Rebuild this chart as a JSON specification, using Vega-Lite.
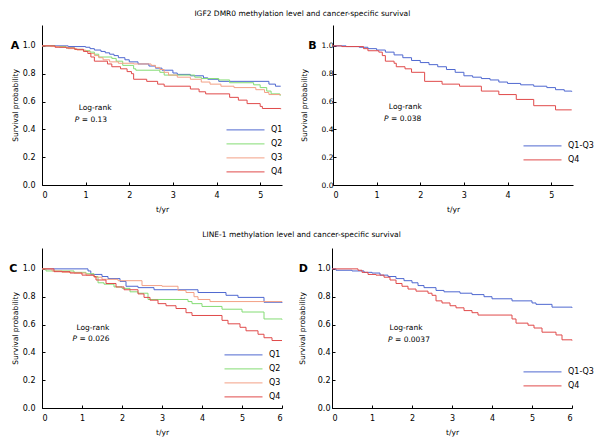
{
  "$schema": "https://vega.github.io/schema/vega-lite/v6.json",
  "background": "white",
  "padding": {"left": 9, "top": 9, "right": 5, "bottom": 5},
  "config": {
    "font": "DejaVu Sans",
    "view": {"stroke": null},
    "axis": {"grid": false, "domainColor": "#000", "tickColor": "#000", "labelColor": "#000", "titleColor": "#000", "labelFont": "DejaVu Sans", "titleFont": "DejaVu Sans", "labelFontSize": 8, "titleFontSize": 7.5, "titleFontWeight": "normal", "tickSize": -3, "domainWidth": 1, "tickWidth": 1, "labelOverlap": false, "tickCount": 20},
    "axisX": {"labelPadding": 9, "titlePadding": 6},
    "axisY": {"labelPadding": 10, "titlePadding": 3},
    "legend": {"labelFont": "DejaVu Sans", "labelFontSize": 8, "labelColor": "#000", "symbolType": "stroke", "symbolSize": 1444, "symbolStrokeWidth": 1, "clipHeight": 13.8, "labelOffset": 6, "padding": 0, "rowPadding": 0, "title": null, "orient": "none"},
    "title": {"font": "DejaVu Sans", "fontSize": 7.5, "fontWeight": "normal", "color": "#000", "anchor": "middle", "offset": 8}
  },
  "datasets": {
    "A": [
      {"t":0,"s":1,"g":"Q1"},{"t":0.6,"s":0.995,"g":"Q1"},{"t":1.0,"s":0.99,"g":"Q1"},{"t":1.1,"s":0.98,"g":"Q1"},{"t":1.2,"s":0.97,"g":"Q1"},{"t":1.35,"s":0.96,"g":"Q1"},{"t":1.45,"s":0.95,"g":"Q1"},{"t":1.55,"s":0.94,"g":"Q1"},{"t":1.65,"s":0.93,"g":"Q1"},{"t":1.75,"s":0.915,"g":"Q1"},{"t":1.9,"s":0.9,"g":"Q1"},{"t":2.0,"s":0.885,"g":"Q1"},{"t":2.2,"s":0.87,"g":"Q1"},{"t":2.45,"s":0.855,"g":"Q1"},{"t":2.6,"s":0.84,"g":"Q1"},{"t":2.75,"s":0.825,"g":"Q1"},{"t":3.0,"s":0.805,"g":"Q1"},{"t":3.1,"s":0.795,"g":"Q1"},{"t":3.4,"s":0.785,"g":"Q1"},{"t":3.7,"s":0.77,"g":"Q1"},{"t":3.8,"s":0.76,"g":"Q1"},{"t":4.05,"s":0.745,"g":"Q1"},{"t":5.2,"s":0.725,"g":"Q1"},{"t":5.35,"s":0.71,"g":"Q1"},{"t":5.47,"s":0.71,"g":"Q1"},
      {"t":0,"s":1,"g":"Q2"},{"t":0.3,"s":0.995,"g":"Q2"},{"t":0.55,"s":0.985,"g":"Q2"},{"t":0.75,"s":0.975,"g":"Q2"},{"t":0.95,"s":0.965,"g":"Q2"},{"t":1.1,"s":0.955,"g":"Q2"},{"t":1.2,"s":0.94,"g":"Q2"},{"t":1.3,"s":0.92,"g":"Q2"},{"t":1.6,"s":0.91,"g":"Q2"},{"t":1.7,"s":0.89,"g":"Q2"},{"t":1.85,"s":0.86,"g":"Q2"},{"t":2.1,"s":0.835,"g":"Q2"},{"t":2.15,"s":0.825,"g":"Q2"},{"t":2.7,"s":0.81,"g":"Q2"},{"t":2.8,"s":0.79,"g":"Q2"},{"t":3.5,"s":0.775,"g":"Q2"},{"t":3.65,"s":0.765,"g":"Q2"},{"t":4.05,"s":0.755,"g":"Q2"},{"t":4.3,"s":0.735,"g":"Q2"},{"t":4.85,"s":0.72,"g":"Q2"},{"t":5.0,"s":0.7,"g":"Q2"},{"t":5.15,"s":0.675,"g":"Q2"},{"t":5.25,"s":0.655,"g":"Q2"},{"t":5.45,"s":0.645,"g":"Q2"},{"t":5.47,"s":0.645,"g":"Q2"},
      {"t":0,"s":1,"g":"Q3"},{"t":0.2,"s":0.995,"g":"Q3"},{"t":0.4,"s":0.99,"g":"Q3"},{"t":0.6,"s":0.98,"g":"Q3"},{"t":0.8,"s":0.97,"g":"Q3"},{"t":1.0,"s":0.96,"g":"Q3"},{"t":1.1,"s":0.945,"g":"Q3"},{"t":1.2,"s":0.93,"g":"Q3"},{"t":1.3,"s":0.915,"g":"Q3"},{"t":1.4,"s":0.9,"g":"Q3"},{"t":1.55,"s":0.885,"g":"Q3"},{"t":1.75,"s":0.875,"g":"Q3"},{"t":2.1,"s":0.87,"g":"Q3"},{"t":2.5,"s":0.86,"g":"Q3"},{"t":2.6,"s":0.845,"g":"Q3"},{"t":2.7,"s":0.83,"g":"Q3"},{"t":2.8,"s":0.81,"g":"Q3"},{"t":2.9,"s":0.79,"g":"Q3"},{"t":3.1,"s":0.775,"g":"Q3"},{"t":3.4,"s":0.76,"g":"Q3"},{"t":3.65,"s":0.74,"g":"Q3"},{"t":3.85,"s":0.725,"g":"Q3"},{"t":4.1,"s":0.71,"g":"Q3"},{"t":4.4,"s":0.7,"g":"Q3"},{"t":4.9,"s":0.685,"g":"Q3"},{"t":5.1,"s":0.665,"g":"Q3"},{"t":5.2,"s":0.65,"g":"Q3"},{"t":5.47,"s":0.65,"g":"Q3"},
      {"t":0,"s":1,"g":"Q4"},{"t":0.3,"s":0.99,"g":"Q4"},{"t":0.55,"s":0.985,"g":"Q4"},{"t":0.75,"s":0.975,"g":"Q4"},{"t":0.95,"s":0.96,"g":"Q4"},{"t":1.05,"s":0.945,"g":"Q4"},{"t":1.12,"s":0.92,"g":"Q4"},{"t":1.2,"s":0.89,"g":"Q4"},{"t":1.5,"s":0.87,"g":"Q4"},{"t":1.6,"s":0.85,"g":"Q4"},{"t":1.8,"s":0.835,"g":"Q4"},{"t":1.95,"s":0.815,"g":"Q4"},{"t":2.05,"s":0.8,"g":"Q4"},{"t":2.1,"s":0.76,"g":"Q4"},{"t":2.4,"s":0.745,"g":"Q4"},{"t":2.65,"s":0.725,"g":"Q4"},{"t":2.8,"s":0.71,"g":"Q4"},{"t":3.4,"s":0.69,"g":"Q4"},{"t":3.6,"s":0.67,"g":"Q4"},{"t":3.75,"s":0.655,"g":"Q4"},{"t":4.3,"s":0.63,"g":"Q4"},{"t":4.5,"s":0.61,"g":"Q4"},{"t":4.7,"s":0.585,"g":"Q4"},{"t":5.0,"s":0.565,"g":"Q4"},{"t":5.05,"s":0.55,"g":"Q4"},{"t":5.47,"s":0.545,"g":"Q4"}
    ],
    "B": [
      {"t":0,"s":1,"g":"Q1-Q3"},{"t":0.3,"s":0.995,"g":"Q1-Q3"},{"t":0.6,"s":0.99,"g":"Q1-Q3"},{"t":0.8,"s":0.98,"g":"Q1-Q3"},{"t":1.0,"s":0.97,"g":"Q1-Q3"},{"t":1.2,"s":0.955,"g":"Q1-Q3"},{"t":1.4,"s":0.935,"g":"Q1-Q3"},{"t":1.6,"s":0.915,"g":"Q1-Q3"},{"t":1.8,"s":0.895,"g":"Q1-Q3"},{"t":2.0,"s":0.88,"g":"Q1-Q3"},{"t":2.2,"s":0.865,"g":"Q1-Q3"},{"t":2.4,"s":0.85,"g":"Q1-Q3"},{"t":2.6,"s":0.83,"g":"Q1-Q3"},{"t":2.8,"s":0.81,"g":"Q1-Q3"},{"t":3.0,"s":0.785,"g":"Q1-Q3"},{"t":3.2,"s":0.775,"g":"Q1-Q3"},{"t":3.4,"s":0.765,"g":"Q1-Q3"},{"t":3.6,"s":0.755,"g":"Q1-Q3"},{"t":3.8,"s":0.74,"g":"Q1-Q3"},{"t":4.0,"s":0.73,"g":"Q1-Q3"},{"t":4.3,"s":0.72,"g":"Q1-Q3"},{"t":4.6,"s":0.71,"g":"Q1-Q3"},{"t":4.9,"s":0.7,"g":"Q1-Q3"},{"t":5.1,"s":0.685,"g":"Q1-Q3"},{"t":5.3,"s":0.675,"g":"Q1-Q3"},{"t":5.47,"s":0.67,"g":"Q1-Q3"},
      {"t":0,"s":1,"g":"Q4"},{"t":0.2,"s":0.995,"g":"Q4"},{"t":0.7,"s":0.98,"g":"Q4"},{"t":0.8,"s":0.965,"g":"Q4"},{"t":1.05,"s":0.955,"g":"Q4"},{"t":1.13,"s":0.93,"g":"Q4"},{"t":1.2,"s":0.89,"g":"Q4"},{"t":1.4,"s":0.875,"g":"Q4"},{"t":1.45,"s":0.85,"g":"Q4"},{"t":1.65,"s":0.835,"g":"Q4"},{"t":1.8,"s":0.81,"g":"Q4"},{"t":2.1,"s":0.745,"g":"Q4"},{"t":2.5,"s":0.725,"g":"Q4"},{"t":2.9,"s":0.71,"g":"Q4"},{"t":3.4,"s":0.675,"g":"Q4"},{"t":3.8,"s":0.65,"g":"Q4"},{"t":4.2,"s":0.615,"g":"Q4"},{"t":4.6,"s":0.57,"g":"Q4"},{"t":5.1,"s":0.54,"g":"Q4"},{"t":5.47,"s":0.54,"g":"Q4"}
    ],
    "C": [
      {"t":0,"s":1,"g":"Q1"},{"t":1.15,"s":0.985,"g":"Q1"},{"t":1.22,"s":0.96,"g":"Q1"},{"t":1.5,"s":0.945,"g":"Q1"},{"t":1.65,"s":0.93,"g":"Q1"},{"t":1.95,"s":0.91,"g":"Q1"},{"t":2.1,"s":0.875,"g":"Q1"},{"t":2.4,"s":0.865,"g":"Q1"},{"t":2.8,"s":0.85,"g":"Q1"},{"t":3.9,"s":0.83,"g":"Q1"},{"t":4.6,"s":0.81,"g":"Q1"},{"t":4.9,"s":0.795,"g":"Q1"},{"t":5.55,"s":0.76,"g":"Q1"},{"t":6,"s":0.755,"g":"Q1"},
      {"t":0,"s":1,"g":"Q2"},{"t":0.1,"s":0.985,"g":"Q2"},{"t":0.8,"s":0.975,"g":"Q2"},{"t":1.1,"s":0.965,"g":"Q2"},{"t":1.3,"s":0.945,"g":"Q2"},{"t":1.4,"s":0.9,"g":"Q2"},{"t":1.55,"s":0.89,"g":"Q2"},{"t":1.8,"s":0.87,"g":"Q2"},{"t":2.0,"s":0.86,"g":"Q2"},{"t":2.2,"s":0.835,"g":"Q2"},{"t":2.4,"s":0.825,"g":"Q2"},{"t":2.65,"s":0.78,"g":"Q2"},{"t":3.65,"s":0.765,"g":"Q2"},{"t":3.75,"s":0.75,"g":"Q2"},{"t":4.0,"s":0.73,"g":"Q2"},{"t":4.5,"s":0.71,"g":"Q2"},{"t":5.0,"s":0.69,"g":"Q2"},{"t":5.55,"s":0.64,"g":"Q2"},{"t":6,"s":0.635,"g":"Q2"},
      {"t":0,"s":1,"g":"Q3"},{"t":0.25,"s":0.985,"g":"Q3"},{"t":0.5,"s":0.975,"g":"Q3"},{"t":0.8,"s":0.97,"g":"Q3"},{"t":1.1,"s":0.955,"g":"Q3"},{"t":1.3,"s":0.94,"g":"Q3"},{"t":1.5,"s":0.925,"g":"Q3"},{"t":1.9,"s":0.915,"g":"Q3"},{"t":2.5,"s":0.88,"g":"Q3"},{"t":3.0,"s":0.875,"g":"Q3"},{"t":3.4,"s":0.845,"g":"Q3"},{"t":3.6,"s":0.83,"g":"Q3"},{"t":3.8,"s":0.8,"g":"Q3"},{"t":3.9,"s":0.78,"g":"Q3"},{"t":4.2,"s":0.765,"g":"Q3"},{"t":6,"s":0.762,"g":"Q3"},
      {"t":0,"s":1,"g":"Q4"},{"t":0.3,"s":0.98,"g":"Q4"},{"t":0.7,"s":0.97,"g":"Q4"},{"t":1.0,"s":0.955,"g":"Q4"},{"t":1.3,"s":0.945,"g":"Q4"},{"t":1.35,"s":0.92,"g":"Q4"},{"t":1.6,"s":0.895,"g":"Q4"},{"t":1.85,"s":0.87,"g":"Q4"},{"t":2.05,"s":0.85,"g":"Q4"},{"t":2.4,"s":0.82,"g":"Q4"},{"t":2.55,"s":0.795,"g":"Q4"},{"t":2.7,"s":0.775,"g":"Q4"},{"t":2.9,"s":0.75,"g":"Q4"},{"t":3.1,"s":0.735,"g":"Q4"},{"t":3.35,"s":0.715,"g":"Q4"},{"t":3.6,"s":0.685,"g":"Q4"},{"t":3.75,"s":0.665,"g":"Q4"},{"t":4.5,"s":0.63,"g":"Q4"},{"t":4.65,"s":0.605,"g":"Q4"},{"t":4.95,"s":0.58,"g":"Q4"},{"t":5.1,"s":0.555,"g":"Q4"},{"t":5.4,"s":0.53,"g":"Q4"},{"t":5.55,"s":0.505,"g":"Q4"},{"t":5.75,"s":0.485,"g":"Q4"},{"t":6,"s":0.485,"g":"Q4"}
    ],
    "D": [
      {"t":0,"s":1,"g":"Q1-Q3"},{"t":0.1,"s":0.99,"g":"Q1-Q3"},{"t":0.5,"s":0.985,"g":"Q1-Q3"},{"t":0.8,"s":0.975,"g":"Q1-Q3"},{"t":1.0,"s":0.97,"g":"Q1-Q3"},{"t":1.2,"s":0.955,"g":"Q1-Q3"},{"t":1.4,"s":0.945,"g":"Q1-Q3"},{"t":1.6,"s":0.93,"g":"Q1-Q3"},{"t":1.8,"s":0.915,"g":"Q1-Q3"},{"t":2.0,"s":0.9,"g":"Q1-Q3"},{"t":2.15,"s":0.88,"g":"Q1-Q3"},{"t":2.3,"s":0.865,"g":"Q1-Q3"},{"t":2.6,"s":0.845,"g":"Q1-Q3"},{"t":2.8,"s":0.835,"g":"Q1-Q3"},{"t":3.2,"s":0.825,"g":"Q1-Q3"},{"t":3.5,"s":0.815,"g":"Q1-Q3"},{"t":3.8,"s":0.8,"g":"Q1-Q3"},{"t":4.0,"s":0.785,"g":"Q1-Q3"},{"t":4.5,"s":0.77,"g":"Q1-Q3"},{"t":5.0,"s":0.755,"g":"Q1-Q3"},{"t":5.1,"s":0.745,"g":"Q1-Q3"},{"t":5.5,"s":0.725,"g":"Q1-Q3"},{"t":6,"s":0.72,"g":"Q1-Q3"},
      {"t":0,"s":1,"g":"Q4"},{"t":0.65,"s":0.99,"g":"Q4"},{"t":0.75,"s":0.975,"g":"Q4"},{"t":0.9,"s":0.96,"g":"Q4"},{"t":1.1,"s":0.955,"g":"Q4"},{"t":1.3,"s":0.94,"g":"Q4"},{"t":1.45,"s":0.92,"g":"Q4"},{"t":1.6,"s":0.895,"g":"Q4"},{"t":1.75,"s":0.875,"g":"Q4"},{"t":1.9,"s":0.855,"g":"Q4"},{"t":2.1,"s":0.84,"g":"Q4"},{"t":2.4,"s":0.825,"g":"Q4"},{"t":2.5,"s":0.81,"g":"Q4"},{"t":2.6,"s":0.77,"g":"Q4"},{"t":2.75,"s":0.755,"g":"Q4"},{"t":2.95,"s":0.735,"g":"Q4"},{"t":3.1,"s":0.72,"g":"Q4"},{"t":3.3,"s":0.7,"g":"Q4"},{"t":3.5,"s":0.685,"g":"Q4"},{"t":3.65,"s":0.668,"g":"Q4"},{"t":4.5,"s":0.64,"g":"Q4"},{"t":4.6,"s":0.61,"g":"Q4"},{"t":4.9,"s":0.595,"g":"Q4"},{"t":5.05,"s":0.575,"g":"Q4"},{"t":5.25,"s":0.545,"g":"Q4"},{"t":5.6,"s":0.525,"g":"Q4"},{"t":5.75,"s":0.49,"g":"Q4"},{"t":6,"s":0.485,"g":"Q4"}
    ]
  },
  "spacing": 17,
  "resolve": {"scale": {"color": "independent", "x": "independent", "y": "independent"}, "legend": {"color": "independent"}},
  "vconcat": [
    {
      "title": {"text": "IGF2 DMR0 methylation level and cancer-specific survival"},
      "spacing": 17,
      "resolve": {"scale": {"color": "independent", "x": "independent", "y": "independent"}, "legend": {"color": "independent"}},
      "hconcat": [
        {
          "width": 240, "height": 160,
          "layer": [
            {
              "data": {"name": "A"},
              "mark": {"type": "line", "interpolate": "step-after", "strokeWidth": 1},
              "encoding": {
                "x": {"field": "t", "type": "quantitative", "scale": {"domain": [0, 5.5], "nice": false}, "axis": {"values": [0,1,2,3,4,5], "tickCount": 20, "format": "d", "title": "t/yr"}},
                "y": {"field": "s", "type": "quantitative", "scale": {"domain": [0, 1.15], "nice": false}, "axis": {"values": [0,0.2,0.4,0.6,0.8,1.0], "tickCount": 20, "format": ".1f", "title": "Survival probability"}},
                "color": {"field": "g", "type": "nominal", "scale": {"domain": ["Q1","Q2","Q3","Q4"], "range": ["#4f68d0","#84dc74","#f3a085","#e04a4a"]}, "legend": {"legendX": 184, "legendY": 98}}
              }
            },
            {"data": {"values": [{}]}, "mark": {"type": "text", "text": "Log-rank", "fontSize": 7.5, "align": "left", "baseline": "middle"}, "encoding": {"x": {"datum": 0.84}, "y": {"datum": 0.556}}},
            {"data": {"values": [{}]}, "mark": {"type": "text", "text": "P", "fontStyle": "italic", "fontSize": 7.5, "align": "left", "baseline": "middle"}, "encoding": {"x": {"datum": 0.75}, "y": {"datum": 0.464}}},
            {"data": {"values": [{}]}, "mark": {"type": "text", "text": "= 0.13", "dx": 7, "fontSize": 7.5, "align": "left", "baseline": "middle"}, "encoding": {"x": {"datum": 0.75}, "y": {"datum": 0.464}}},
            {"data": {"values": [{}]}, "mark": {"type": "text", "text": "A", "fontWeight": "bold", "fontSize": 11, "align": "center", "baseline": "middle"}, "encoding": {"x": {"datum": -0.62}, "y": {"datum": 1.0}}}
          ]
        },
        {
          "width": 240, "height": 160,
          "layer": [
            {
              "data": {"name": "B"},
              "mark": {"type": "line", "interpolate": "step-after", "strokeWidth": 1},
              "encoding": {
                "x": {"field": "t", "type": "quantitative", "scale": {"domain": [0, 5.5], "nice": false}, "axis": {"values": [0,1,2,3,4,5], "tickCount": 20, "format": "d", "title": "t/yr"}},
                "y": {"field": "s", "type": "quantitative", "scale": {"domain": [0, 1.15], "nice": false}, "axis": {"values": [0,0.2,0.4,0.6,0.8,1.0], "tickCount": 20, "format": ".1f", "title": "Survival probability", "labelPadding": 3, "labelFontSize": 7.5, "titlePadding": 13}},
                "color": {"field": "g", "type": "nominal", "scale": {"domain": ["Q1-Q3","Q4"], "range": ["#4f68d0","#e04a4a"]}, "legend": {"legendX": 190, "legendY": 114}}
              }
            },
            {"data": {"values": [{}]}, "mark": {"type": "text", "text": "Log-rank", "fontSize": 7.5, "align": "left", "baseline": "middle"}, "encoding": {"x": {"datum": 1.28}, "y": {"datum": 0.561}}},
            {"data": {"values": [{}]}, "mark": {"type": "text", "text": "P", "fontStyle": "italic", "fontSize": 7.5, "align": "left", "baseline": "middle"}, "encoding": {"x": {"datum": 1.17}, "y": {"datum": 0.475}}},
            {"data": {"values": [{}]}, "mark": {"type": "text", "text": "= 0.038", "dx": 7, "fontSize": 7.5, "align": "left", "baseline": "middle"}, "encoding": {"x": {"datum": 1.17}, "y": {"datum": 0.475}}},
            {"data": {"values": [{}]}, "mark": {"type": "text", "text": "B", "fontWeight": "bold", "fontSize": 11, "align": "center", "baseline": "middle"}, "encoding": {"x": {"datum": -0.47}, "y": {"datum": 1.0}}}
          ]
        }
      ]
    },
    {
      "title": {"text": "LINE-1 methylation level and cancer-specific survival", "offset": 10},
      "spacing": 14,
      "resolve": {"scale": {"color": "independent", "x": "independent", "y": "independent"}, "legend": {"color": "independent"}},
      "hconcat": [
        {
          "width": 240, "height": 160,
          "layer": [
            {
              "data": {"name": "C"},
              "mark": {"type": "line", "interpolate": "step-after", "strokeWidth": 1},
              "encoding": {
                "x": {"field": "t", "type": "quantitative", "scale": {"domain": [0, 6], "nice": false}, "axis": {"values": [0,1,2,3,4,5,6], "tickCount": 20, "format": "d", "title": "t/yr"}},
                "y": {"field": "s", "type": "quantitative", "scale": {"domain": [0, 1.15], "nice": false}, "axis": {"values": [0,0.2,0.4,0.6,0.8,1.0], "tickCount": 20, "format": ".1f", "title": "Survival probability"}},
                "color": {"field": "g", "type": "nominal", "scale": {"domain": ["Q1","Q2","Q3","Q4"], "range": ["#4f68d0","#84dc74","#f3a085","#e04a4a"]}, "legend": {"legendX": 182, "legendY": 100}}
              }
            },
            {"data": {"values": [{}]}, "mark": {"type": "text", "text": "Log-rank", "fontSize": 7.5, "align": "left", "baseline": "middle"}, "encoding": {"x": {"datum": 0.86}, "y": {"datum": 0.578}}},
            {"data": {"values": [{}]}, "mark": {"type": "text", "text": "P", "fontStyle": "italic", "fontSize": 7.5, "align": "left", "baseline": "middle"}, "encoding": {"x": {"datum": 0.76}, "y": {"datum": 0.493}}},
            {"data": {"values": [{}]}, "mark": {"type": "text", "text": "= 0.026", "dx": 7, "fontSize": 7.5, "align": "left", "baseline": "middle"}, "encoding": {"x": {"datum": 0.76}, "y": {"datum": 0.493}}},
            {"data": {"values": [{}]}, "mark": {"type": "text", "text": "C", "fontWeight": "bold", "fontSize": 11, "align": "center", "baseline": "middle"}, "encoding": {"x": {"datum": -0.72}, "y": {"datum": 1.0}}}
          ]
        },
        {
          "width": 240, "height": 160,
          "layer": [
            {
              "data": {"name": "D"},
              "mark": {"type": "line", "interpolate": "step-after", "strokeWidth": 1},
              "encoding": {
                "x": {"field": "t", "type": "quantitative", "scale": {"domain": [0, 6], "nice": false}, "axis": {"values": [0,1,2,3,4,5,6], "tickCount": 20, "format": "d", "title": "t/yr"}},
                "y": {"field": "s", "type": "quantitative", "scale": {"domain": [0, 1.15], "nice": false}, "axis": {"values": [0,0.2,0.4,0.6,0.8,1.0], "tickCount": 20, "format": ".1f", "title": "Survival probability", "labelPadding": 5, "titlePadding": 11}},
                "color": {"field": "g", "type": "nominal", "scale": {"domain": ["Q1-Q3","Q4"], "range": ["#4f68d0","#e04a4a"]}, "legend": {"legendX": 191, "legendY": 117}}
              }
            },
            {"data": {"values": [{}]}, "mark": {"type": "text", "text": "Log-rank", "fontSize": 7.5, "align": "left", "baseline": "middle"}, "encoding": {"x": {"datum": 1.44}, "y": {"datum": 0.578}}},
            {"data": {"values": [{}]}, "mark": {"type": "text", "text": "P", "fontStyle": "italic", "fontSize": 7.5, "align": "left", "baseline": "middle"}, "encoding": {"x": {"datum": 1.4}, "y": {"datum": 0.49}}},
            {"data": {"values": [{}]}, "mark": {"type": "text", "text": "= 0.0037", "dx": 7, "fontSize": 7.5, "align": "left", "baseline": "middle"}, "encoding": {"x": {"datum": 1.4}, "y": {"datum": 0.49}}},
            {"data": {"values": [{}]}, "mark": {"type": "text", "text": "D", "fontWeight": "bold", "fontSize": 11, "align": "center", "baseline": "middle"}, "encoding": {"x": {"datum": -0.72}, "y": {"datum": 1.0}}}
          ]
        }
      ]
    }
  ]
}
